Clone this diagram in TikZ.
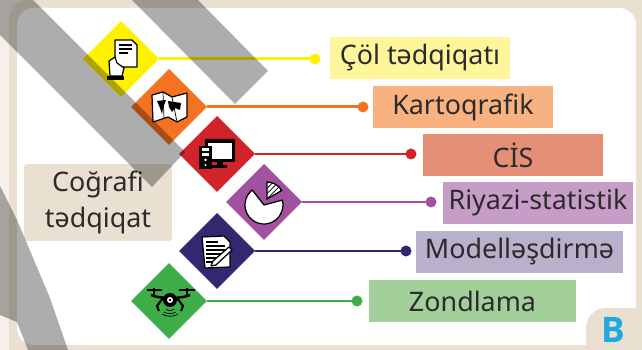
\documentclass[tikz,border=0pt]{standalone}
\usepackage{fontspec}
\setmainfont{Noto Sans}
\newfontfamily\letterfont{Open Sans}
\usetikzlibrary{patterns,shapes.geometric}

\definecolor{paper}{HTML}{F5F1EA}
\definecolor{frame}{HTML}{E9E0D2}
\definecolor{inkdark}{HTML}{2B2B2B}
\definecolor{yellowmain}{HTML}{FFF200}
\definecolor{yellowsoft}{HTML}{FFF59B}
\definecolor{orangemain}{HTML}{F47321}
\definecolor{orangesoft}{HTML}{F8B281}
\definecolor{redmain}{HTML}{D2232A}
\definecolor{redsoft}{HTML}{E59076}
\definecolor{purplemain}{HTML}{A0519F}
\definecolor{purplesoft}{HTML}{C69DC6}
\definecolor{navymain}{HTML}{32286F}
\definecolor{navysoft}{HTML}{B9B0CB}
\definecolor{greenmain}{HTML}{3FAE49}
\definecolor{greensoft}{HTML}{A2CF9A}
\definecolor{letterblue}{HTML}{1FA9E1}

\tikzset{
    rhomb/.style={diamond,fill=#1,minimum width=1.52cm,minimum height=1.52cm,inner sep=0pt,outer sep=0pt},
    dot/.style={circle,fill=#1,minimum size=0.22cm,inner sep=0pt,outer sep=0pt},
    link/.style={draw=#1,line width=1.7pt},
    labelbox/.style={fill=#1,text=inkdark,minimum height=0.84cm,inner sep=0pt,font=\fontsize{15.3pt}{18pt}\selectfont},
    band/.style={fill=black,opacity=0.32},
    icon/.style={draw=black,fill=white,line width=0.7pt,line join=round}
}

\begin{document}
\begin{tikzpicture}[x=0.02cm,y=-0.02cm]
    \useasboundingbox (0,0) rectangle (642,350);
    \clip (0,0) rectangle (642,350);

    % frame
    \fill[paper] (0,0) rectangle (642,350);
    \fill[frame,rounded corners=0.4cm] (9,0) rectangle (660,370);
    \fill[frame] (9,345) rectangle (642,350);
    \fill[white,rounded corners=0.34cm] (17,8) rectangle (636,345);
    \fill[frame,rounded corners=0.4cm] (586,308) rectangle (670,380);
    \node[text=letterblue,inner sep=0pt,font=\fontsize{20pt}{20pt}\letterfont\bfseries] (letter) at (613,330) {B};

    % title
    \node[fill=frame,rounded corners=0.06cm,minimum width=2.96cm,minimum height=1.54cm,inner sep=0pt,
        text=inkdark,align=center,font=\fontsize{15.3pt}{20.5pt}\selectfont] (title) at (98,202.5) {Coğrafi\\tədqiqat};

    % labels
    \node[labelbox=yellowsoft,minimum width=3.6cm] (colbox) at (420,58) {Çöl tədqiqatı};
    \node[labelbox=orangesoft,minimum width=3.6cm] (kartbox) at (463,107) {Kartoqrafik};
    \node[labelbox=redsoft,minimum width=3.6cm] (cisbox) at (513,155) {CİS};
    \node[labelbox=purplesoft,minimum width=3.8cm] (riyazibox) at (538,203) {Riyazi-statistik};
    \node[labelbox=navysoft,minimum width=4.14cm] (modelbox) at (519.5,252) {Modelləşdirmə};
    \node[labelbox=greensoft,minimum width=4.14cm] (zondbox) at (472.5,301) {Zondlama};

    % dots
    \node[dot=yellowmain] (coldot) at (315,59) {};
    \node[dot=orangemain] (kartdot) at (363,107) {};
    \node[dot=redmain] (cisdot) at (411,154) {};
    \node[dot=purplemain] (riyazidot) at (431,202) {};
    \node[dot=navymain] (modeldot) at (406,251) {};
    \node[dot=greenmain] (zonddot) at (357,301) {};

    % diamonds
    \node[rhomb=yellowmain] (col) at (121,59) {};
    \node[rhomb=orangemain] (kart) at (169,107) {};
    \node[rhomb=redmain] (cis) at (217,154) {};
    \node[rhomb=purplemain] (riyazi) at (264,202) {};
    \node[rhomb=navymain] (model) at (217,251) {};
    \node[rhomb=greenmain] (zond) at (169,301) {};

    \draw[link=yellowmain] (col.east) -- (coldot);
    \draw[link=orangemain] (kart.east) -- (kartdot);
    \draw[link=redmain] (cis.east) -- (cisdot);
    \draw[link=purplemain] (riyazi.east) -- (riyazidot);
    \draw[link=navymain] (model.east) -- (modeldot);
    \draw[link=greenmain] (zond.east) -- (zonddot);

    % field icon
    \draw[icon] (115,40) -- (132,40) -- (137,45) -- (137,67) -- (115,67) -- cycle;
    \draw[black,line width=1pt] (119,45) -- (132,45) (119,49) -- (132,49) (119,53) -- (128,53);
    \draw[icon] (110,76) -- (109,61) -- (115,57) -- (117,63) -- (124,68) -- (122,76) -- cycle;
    \fill[black] (107,76) rectangle (124,80);

    % map icon
    \draw[icon] (152,95) -- (163,92) -- (172,97) -- (187,93) -- (187,117) -- (177,122) -- (168,117) -- (153,122) -- cycle;
    \draw[black,line width=0.4pt] (163,92) -- (164,118) (172,97) -- (177,122);
    \fill[black] (157,101) -- (166,100) -- (163,108) -- (162,114) -- (160,108) -- cycle;
    \fill[black] (168,101) -- (181,103) -- (180,110) -- (175,108) -- (172,112) -- (169,107) -- cycle;

    % computer icon
    \fill[black,rounded corners=0.02cm] (205,139) rectangle (235,162);
    \fill[white] (208,143) rectangle (232,159);
    \fill[black] (217,162) rectangle (223,166);
    \fill[black] (212,165) rectangle (227,168);
    \fill[black] (199,146) rectangle (212,169);
    \fill[white] (202,148) rectangle (209,151);
    \fill[white] (202,153) rectangle (209,156);
    \fill[white] (205.5,160) circle (1.5);
    \fill[white] (205.5,165) circle (1.2);

    % pie icon
    \draw[icon] (264,205) -- ++(-128:19) arc[start angle=-128,end angle=-375,radius=19] -- cycle;
    \fill[white] (267,199) -- ++(-90:17) arc[start angle=-90,end angle=-30,radius=17] -- cycle;
    \draw[draw=black,line width=0.7pt,pattern=north east lines,pattern color=black] (267,199) -- ++(-90:17) arc[start angle=-90,end angle=-30,radius=17] -- cycle;

    % document icon
    \draw[icon] (202,237) -- (224,236) -- (230,242) -- (230,267) -- (205,268) -- cycle;
    \draw[black,line width=0.8pt] (206,242) -- (218,242) (206,246) -- (225,246) (206,250) -- (225,250) (206,254) -- (222,254) (206,258) -- (218,258) (206,262) -- (214,262);
    \draw[icon] (211,266) -- (213,261) -- (229,247) -- (232,250) -- (216,265) -- cycle;

    % drone icon
    \draw[black,line width=1pt] (147,290) -- (162,290) (179,290) -- (195,290);
    \draw[black,line width=1.2pt] (154,288) -- (154,296) (187,288) -- (187,296);
    \draw[black,line width=1.4pt] (151,295) .. controls (160,299) and (181,299) .. (190,295);
    \fill[black] (170,300) circle (7);
    \fill[white] (170,300) circle (3);
    \fill[black] (170,300) circle (1.3);
    \draw[black,line width=1.2pt] (163,298) -- (157,306) -- (159,311);
    \draw[black,line width=1.2pt] (177,298) -- (183,306) -- (181,311);
    \draw[black,line width=0.4pt] (166,309) .. controls (168,311) and (172,311) .. (174,309);
    \draw[black,line width=0.4pt] (164,312) .. controls (167,314) and (173,314) .. (176,312);
    \draw[black,line width=0.4pt] (162,314) .. controls (166,317) and (174,317) .. (178,314);

    % shaded strips
    \fill[band] (33,0) -- (185,152) -- (152,187) -- (0,35) -- (0,0) -- cycle;
    \fill[band] (132,0) -- (198,0) -- (268,71) -- (235,104) -- cycle;
    \fill[band] (0,186) -- (17,220) -- (50,298) -- (68,350) -- (28,350) -- (17,322) -- (0,315) -- cycle;
\end{tikzpicture}
\end{document}
